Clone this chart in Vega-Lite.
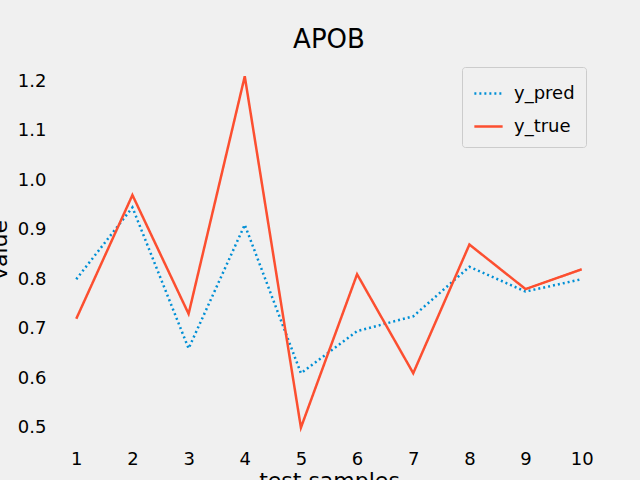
{
  "$schema": "https://vega.github.io/schema/vega-lite/v6.json",
  "width": 556,
  "height": 381,
  "autosize": "none",
  "padding": {"left": 51, "top": 59, "right": 33, "bottom": 40},
  "background": "#f0f0f0",
  "config": {
    "view": {"stroke": null, "fill": "#f0f0f0"},
    "font": "DejaVu Sans",
    "axis": {"domain": false, "ticks": false, "grid": false, "labelFontSize": 18, "labelColor": "#000", "titleFontSize": 22, "titleFontWeight": "normal", "titleColor": "#000"}
  },
  "title": {"text": "APOB", "fontSize": 26, "fontWeight": "normal", "offset": 6, "color": "#000"},
  "data": {
    "values": [
      {"sample": 1, "series": "y_pred", "value": 0.80},
      {"sample": 2, "series": "y_pred", "value": 0.945},
      {"sample": 3, "series": "y_pred", "value": 0.66},
      {"sample": 4, "series": "y_pred", "value": 0.91},
      {"sample": 5, "series": "y_pred", "value": 0.61},
      {"sample": 6, "series": "y_pred", "value": 0.695},
      {"sample": 7, "series": "y_pred", "value": 0.725},
      {"sample": 8, "series": "y_pred", "value": 0.825},
      {"sample": 9, "series": "y_pred", "value": 0.775},
      {"sample": 10, "series": "y_pred", "value": 0.80},
      {"sample": 1, "series": "y_true", "value": 0.72},
      {"sample": 2, "series": "y_true", "value": 0.97},
      {"sample": 3, "series": "y_true", "value": 0.73},
      {"sample": 4, "series": "y_true", "value": 1.21},
      {"sample": 5, "series": "y_true", "value": 0.50},
      {"sample": 6, "series": "y_true", "value": 0.81},
      {"sample": 7, "series": "y_true", "value": 0.61},
      {"sample": 8, "series": "y_true", "value": 0.87},
      {"sample": 9, "series": "y_true", "value": 0.78},
      {"sample": 10, "series": "y_true", "value": 0.82}
    ]
  },
  "mark": {"type": "line", "strokeWidth": 2.5},
  "encoding": {
    "x": {"field": "sample", "type": "quantitative", "scale": {"domain": [0.55, 10.45], "nice": false}, "axis": {"values": [1,2,3,4,5,6,7,8,9,10], "title": "test samples", "labelPadding": 10, "titlePadding": 2}},
    "y": {"field": "value", "type": "quantitative", "scale": {"domain": [0.475, 1.245], "nice": false, "zero": false}, "axis": {"values": [0.5,0.6,0.7,0.8,0.9,1.0,1.1,1.2], "format": ".1f", "title": "value", "labelPadding": 5, "titlePadding": 6}},
    "color": {"field": "series", "type": "nominal", "scale": {"domain": ["y_pred", "y_true"], "range": ["#008fd5", "#fc4f30"]},
      "legend": {"title": null, "orient": "none", "legendX": 411, "legendY": 8, "labelFontSize": 18, "symbolType": "stroke", "symbolSize": 800, "symbolStrokeWidth": 2.5, "padding": 11, "strokeColor": "#cccccc", "fillColor": "#f0f0f0", "cornerRadius": 3, "rowPadding": 8, "labelOffset": 10}},
    "strokeDash": {"field": "series", "type": "nominal", "scale": {"domain": ["y_pred", "y_true"], "range": [[2, 3], [1, 0]]}, "legend": null}
  }
}
